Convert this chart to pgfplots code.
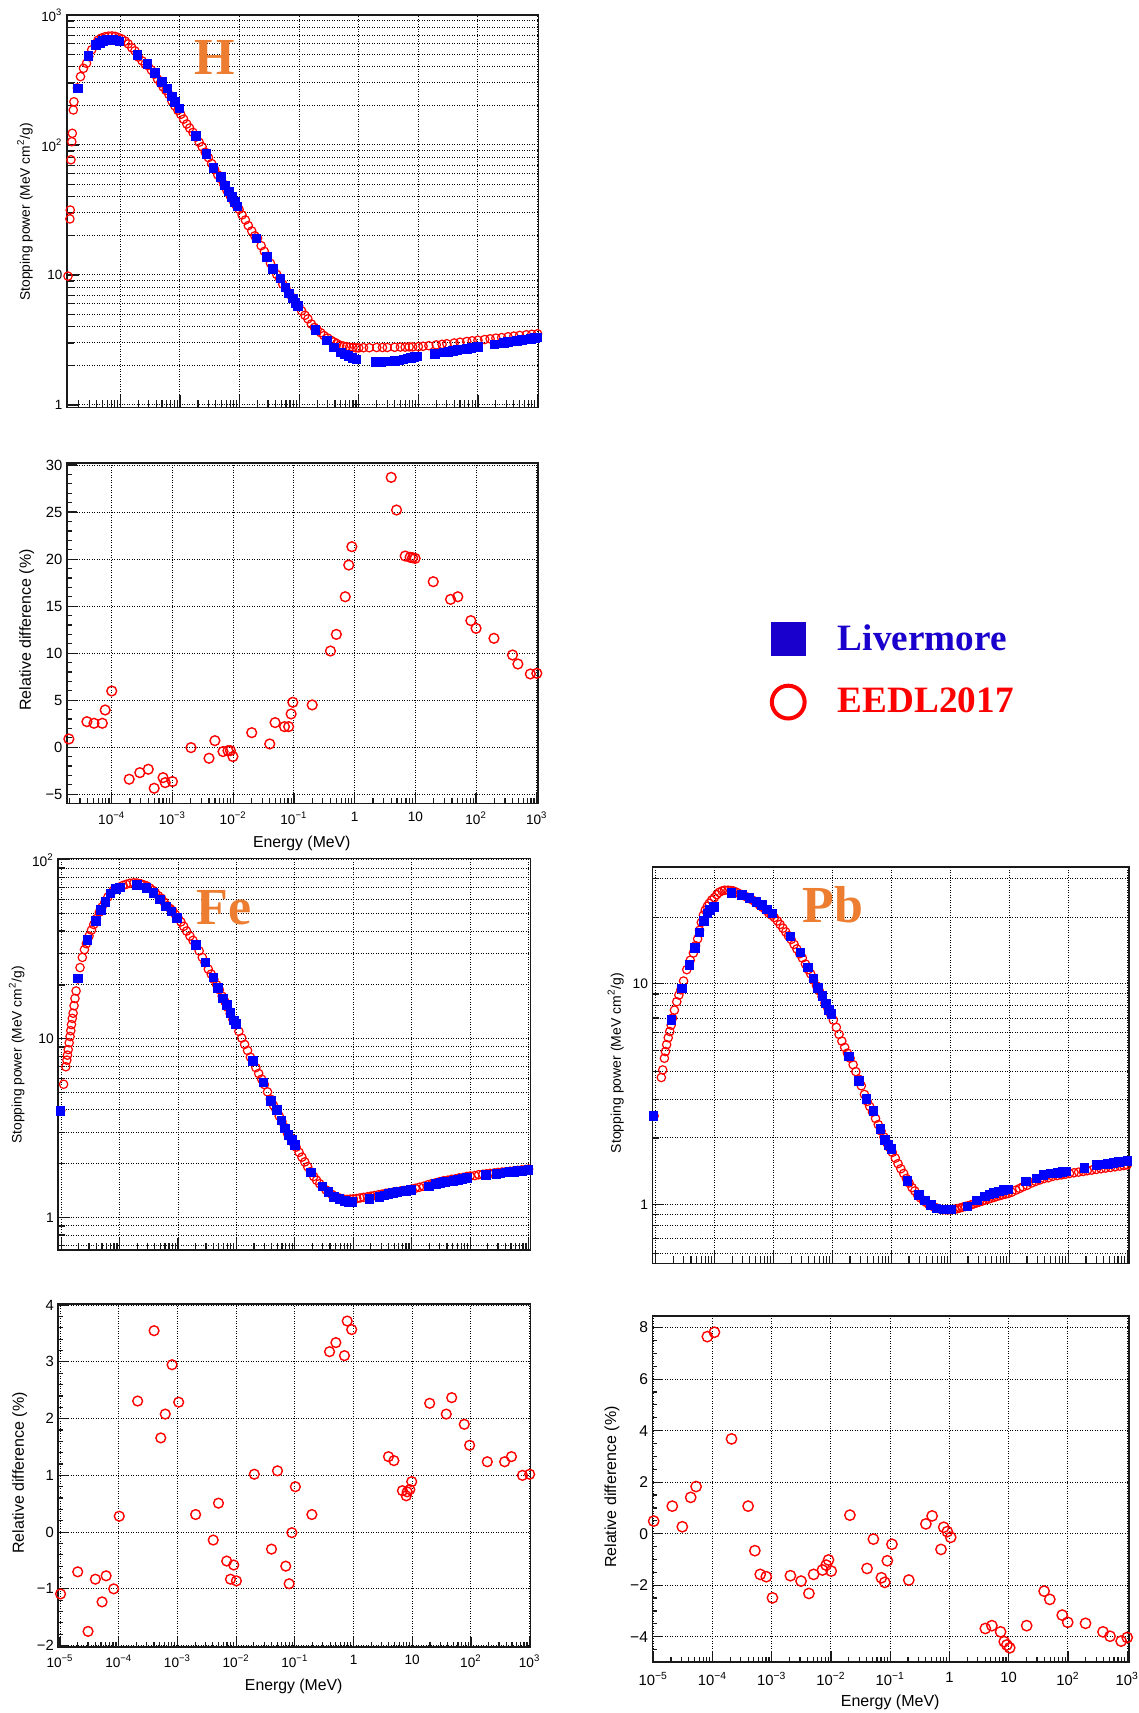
\documentclass[border=0pt]{standalone}
\usepackage{fontspec}
\setmainfont{Liberation Sans}
\newfontfamily\timesf{Liberation Serif}
\usepackage{pgfplots}
\pgfplotsset{compat=1.18}
\definecolor{rootblue}{RGB}{0,0,255}
\definecolor{rootred}{RGB}{255,0,0}
\definecolor{legblue}{RGB}{26,0,204}
\definecolor{elorange}{RGB}{237,125,49}
\newcommand{\myfs}[1]{\fontsize{#1}{#1}\selectfont}
\newcommand{\elfont}{\timesf\bfseries\fontsize{26}{28}\selectfont}
\newcommand{\legfont}{\timesf\bfseries\fontsize{18.6}{22}\selectfont}
\tikzset{
  redc/.style={only marks, mark=o, color=rootred, mark size=2.1pt, line width=0.6pt},
  blues/.style={only marks, mark=square*, color=rootblue, mark size=2.15pt},
  redd/.style={only marks, mark=o, color=rootred, mark size=2.45pt, line width=0.7pt},
  gridst/.style={black, line width=0.5pt, dash pattern=on 0.5pt off 0.75pt},
}
\begin{document}
\begin{tikzpicture}
\path[use as bounding box] (0,0) rectangle (569.5pt,-856.5pt);

% ---------------- H stopping power
\begin{axis}[
  xmode=log, ymode=log, scale only axis,
  at={(33.4pt,-203.65pt)}, anchor=south west, width=235.9pt, height=196.15pt,
  xmin=1.26e-5, xmax=1042, ymin=0.96, ymax=1000,
  axis line style={black!90, line width=0.8pt},
  tick pos=left, tick align=inside, major tick length=6pt, minor tick length=3.5pt,
  tick style={black!90, line width=0.6pt},
  xmajorgrids, ymajorgrids, yminorgrids,
  major grid style={gridst}, minor grid style={gridst},
  clip=false,
  xtick={1e-5,1e-4,1e-3,1e-2,1e-1,1,10,100,1000}, xticklabels={},
  minor xtick={2e-5,3e-5,4e-5,5e-5,6e-5,7e-5,8e-5,9e-5,2e-4,3e-4,4e-4,5e-4,6e-4,7e-4,8e-4,9e-4,2e-3,3e-3,4e-3,5e-3,6e-3,7e-3,8e-3,9e-3,0.02,0.03,0.04,0.05,0.06,0.07,0.08,0.09,0.2,0.3,0.4,0.5,0.6,0.7,0.8,0.9,2,3,4,5,6,7,8,9,20,30,40,50,60,70,80,90,200,300,400,500,600,700,800,900},
  ytick={1,10,100,1000}, yticklabels={1,10,10\textsuperscript{2},10\textsuperscript{3}},
  minor ytick={2,3,4,5,6,7,8,9,20,30,40,50,60,70,80,90,200,300,400,500,600,700,800,900},
  yticklabel style={inner sep=0pt, xshift=-2pt, font=\myfs{6.7}},
  ylabel={Stopping power (MeV cm\textsuperscript{2}/g)},
  ylabel style={at={(axis description cs:-0.0886,0.498)}, anchor=center, font=\myfs{6.9}},
]
\addplot[redc] table {
1.32e-5 9.8
1.42e-5 27
1.44e-5 31.6
1.48e-5 77
1.53e-5 106
1.56e-5 123
1.62e-5 186
1.66e-5 215
1.9e-5 275
2.14e-5 336
2.4e-5 389
2.7e-5 425
2.95e-5 480
3.3e-5 540
3.8e-5 600
4.2e-5 640
4.8e-5 665
5.5e-5 680
6.3e-5 688
7.2e-5 690
8.2e-5 685
9.3e-5 670
1.05e-4 655
1.2e-4 630
1.35e-4 600
1.55e-4 560
1.75e-4 530
2.0e-4 475
2.3e-4 445
2.6e-4 418
2.9e-4 408
3.3e-4 378
3.7e-4 350
4.2e-4 322
4.7e-4 300
5.2e-4 280
5.8e-4 263
6.5e-4 245
7.3e-4 218
8.2e-4 200
9.2e-4 185
1.03e-3 172
1.15e-3 158
1.3e-3 145
1.45e-3 135
1.65e-3 125
1.85e-3 115
2.1e-3 105
2.35e-3 97
2.65e-3 88
3.0e-3 80
3.4e-3 72
3.8e-3 65
4.3e-3 59
4.8e-3 55
5.4e-3 50
6.1e-3 45
6.9e-3 41
7.8e-3 37.5
8.7e-3 34.5
9.8e-3 32
1.1e-2 29
1.25e-2 26.5
1.4e-2 24
1.6e-2 21.8
1.8e-2 20
2.0e-2 19.2
2.3e-2 16.8
2.6e-2 15.2
2.9e-2 13.9
3.3e-2 12.3
3.7e-2 11.1
4.2e-2 10.1
4.7e-2 9.4
5.3e-2 8.5
6.0e-2 7.9
6.8e-2 7.1
7.7e-2 6.7
8.7e-2 6.1
9.8e-2 5.8
0.11 5.3
0.125 4.9
0.14 4.6
0.16 4.2
0.18 3.95
0.2 3.8
0.23 3.6
0.26 3.42
0.3 3.28
0.34 3.15
0.38 3.06
0.43 2.97
0.48 2.88
0.55 2.84
0.62 2.81
0.7 2.78
0.8 2.77
0.9 2.75
1.0 2.75
1.2 2.76
1.5 2.76
2 2.77
2.5 2.77
3 2.77
4 2.78
5 2.79
6 2.79
7 2.8
8 2.8
10 2.81
12 2.83
15 2.86
20 2.9
25 2.93
30 2.96
40 3.0
50 3.04
65 3.08
80 3.12
100 3.15
130 3.19
160 3.23
200 3.27
250 3.3
320 3.35
400 3.39
500 3.43
650 3.47
800 3.5
1000 3.53
};
\addplot[blues] table {
1.94e-5 273
2.9e-5 487
3.9e-5 589
4.5e-5 612
5.1e-5 630
5.8e-5 640
6.6e-5 646
7.6e-5 646
8.6e-5 638
9.6e-5 628
1.93e-4 495
2.85e-4 420
3.8e-4 357
4.95e-4 307
6.1e-4 273
7.3e-4 236
8.3e-4 215
9.7e-4 191
1.84e-3 117
2.78e-3 85
3.66e-3 67
4.83e-3 57
5.7e-3 49
6.6e-3 44
7.5e-3 40
8.4e-3 36.5
9.2e-3 33.6
1.92e-2 19.1
2.9e-2 13.8
3.66e-2 11.1
4.83e-2 9.4
5.9e-2 8.0
6.8e-2 7.2
7.8e-2 6.6
8.7e-2 6.1
9.6e-2 5.8
0.187 3.78
0.29 3.13
0.383 2.78
0.505 2.53
0.58 2.45
0.665 2.38
0.78 2.3
0.91 2.24
1.92 2.15
2.4 2.15
2.9 2.16
3.4 2.17
4.0 2.18
4.8 2.21
5.6 2.24
6.5 2.28
7.5 2.31
8.6 2.34
9.6 2.37
19 2.48
27 2.54
32 2.57
38 2.6
45 2.64
55 2.68
65 2.71
78 2.75
90 2.78
100 2.8
190 2.93
270 3.02
320 3.06
380 3.09
450 3.12
550 3.16
650 3.2
780 3.24
900 3.28
1000 3.3
};
\node[font=\elfont, text=elorange, inner sep=0pt] at (rel axis cs:0.3126,0.892) {H};
\end{axis}

% ---------------- H relative difference
\begin{axis}[
  xmode=log, scale only axis,
  at={(33.4pt,-401.65pt)}, anchor=south west, width=235.7pt, height=170.3pt,
  xmin=1.82e-5, xmax=1054, ymin=-5.96, ymax=30.25,
  axis line style={black!90, line width=0.8pt},
  tick pos=left, tick align=inside, major tick length=5pt, minor tick length=2.5pt,
  tick style={black!90, line width=0.6pt},
  xmajorgrids, ymajorgrids,
  major grid style={gridst},
  clip=false,
  xtick={1e-4,1e-3,1e-2,1e-1,1,10,100,1000},
  xticklabels={10\textsuperscript{−4},10\textsuperscript{−3},10\textsuperscript{−2},10\textsuperscript{−1},1,10,10\textsuperscript{2},10\textsuperscript{3}},
  minor xtick={2e-5,3e-5,4e-5,5e-5,6e-5,7e-5,8e-5,9e-5,2e-4,3e-4,4e-4,5e-4,6e-4,7e-4,8e-4,9e-4,2e-3,3e-3,4e-3,5e-3,6e-3,7e-3,8e-3,9e-3,0.02,0.03,0.04,0.05,0.06,0.07,0.08,0.09,0.2,0.3,0.4,0.5,0.6,0.7,0.8,0.9,2,3,4,5,6,7,8,9,20,30,40,50,60,70,80,90,200,300,400,500,600,700,800,900},
  ytick={-5,0,5,10,15,20,25,30}, yticklabels={−5,0,5,10,15,20,25,30},
  minor y tick num=4,
  yticklabel style={inner sep=0pt, xshift=-2pt, font=\myfs{7.4}},
  xticklabel style={inner sep=0pt, yshift=-4pt, font=\myfs{6.8}},
  ylabel={Relative difference (\%)}, xlabel={Energy (MeV)},
  ylabel style={at={(axis description cs:-0.0849,0.509)}, anchor=center, font=\myfs{8}},
  xlabel style={at={(axis description cs:0.4985,-0.1166)}, anchor=center, font=\myfs{7.9}},
  legend style={at={(axis description cs:1.4951,0.5364)}, anchor=north west, draw=none, fill=none,
    inner sep=0pt, outer sep=0pt, font=\legfont, row sep=13.4pt, column sep=14.5pt},
  legend cell align=left,
]
\addlegendimage{only marks, mark=square*, color=legblue, mark size=8.33pt}
\addlegendentry{\textcolor{legblue}{Livermore}}
\addlegendimage{only marks, mark=o, color=rootred, mark size=8.2pt, line width=2pt}
\addlegendentry{\textcolor{rootred}{EEDL2017}}
\addplot[redd, forget plot] table {
1.97e-5 0.88
3.9e-5 2.72
5.1e-5 2.55
7.0e-5 2.55
7.8e-5 3.96
1.0e-4 5.98
1.94e-4 -3.40
2.9e-4 -2.70
4.0e-4 -2.34
5.0e-4 -4.36
7.0e-4 -3.23
7.6e-4 -3.76
1.0e-3 -3.65
2.02e-3 -0.04
4.0e-3 -1.17
5.0e-3 0.70
6.8e-3 -0.46
8.2e-3 -0.36
9.0e-3 -0.36
9.9e-3 -0.99
2.02e-2 1.55
4.0e-2 0.35
4.9e-2 2.62
7.0e-2 2.19
8.2e-2 2.19
9.0e-2 3.54
9.6e-2 4.78
0.2 4.5
0.4 10.23
0.5 12.0
0.7 16.0
0.8 19.37
0.9 21.32
4.0 28.69
4.9 25.22
6.8 20.33
8.2 20.19
9.0 20.15
9.9 20.08
19.7 17.6
38 15.72
50 16.0
82 13.46
100 12.64
197 11.58
398 9.81
488 8.85
783 7.79
1000 7.86
};
\end{axis}

% ---------------- Fe stopping power
\begin{axis}[
  xmode=log, ymode=log, scale only axis,
  at={(29.1pt,-625pt)}, anchor=south west, width=236.1pt, height=195.85pt,
  xmin=8.89e-6, xmax=1074, ymin=0.66, ymax=102,
  axis line style={black!90, line width=0.8pt},
  tick pos=left, tick align=inside, major tick length=6pt, minor tick length=3.5pt,
  tick style={black!90, line width=0.6pt},
  xmajorgrids, ymajorgrids, yminorgrids,
  major grid style={gridst}, minor grid style={gridst},
  clip=false,
  xtick={1e-5,1e-4,1e-3,1e-2,1e-1,1,10,100,1000}, xticklabels={},
  minor xtick={2e-5,3e-5,4e-5,5e-5,6e-5,7e-5,8e-5,9e-5,2e-4,3e-4,4e-4,5e-4,6e-4,7e-4,8e-4,9e-4,2e-3,3e-3,4e-3,5e-3,6e-3,7e-3,8e-3,9e-3,0.02,0.03,0.04,0.05,0.06,0.07,0.08,0.09,0.2,0.3,0.4,0.5,0.6,0.7,0.8,0.9,2,3,4,5,6,7,8,9,20,30,40,50,60,70,80,90,200,300,400,500,600,700,800,900},
  ytick={1,10,100}, yticklabels={1,10,10\textsuperscript{2}},
  minor ytick={0.7,0.8,0.9,2,3,4,5,6,7,8,9,20,30,40,50,60,70,80,90},
  yticklabel style={inner sep=0pt, xshift=-2pt, font=\myfs{6.9}},
  ylabel={Stopping power (MeV cm\textsuperscript{2}/g)},
  ylabel style={at={(axis description cs:-0.0877,0.498)}, anchor=center, font=\myfs{6.9}},
]
\addplot[redc] table {
9.8e-6 3.96
1.1e-5 5.57
1.2e-5 6.98
1.25e-5 7.6
1.28e-5 8.1
1.32e-5 8.7
1.37e-5 9.5
1.42e-5 10.3
1.46e-5 11.1
1.5e-5 12
1.55e-5 13
1.6e-5 13.9
1.66e-5 15.3
1.72e-5 16.8
1.8e-5 18.5
1.93e-5 21.6
2.1e-5 25
2.3e-5 28.5
2.5e-5 31.5
2.7e-5 34
3.0e-5 37.5
3.3e-5 40.5
3.6e-5 43.5
4.0e-5 47
4.5e-5 51
5.0e-5 54.5
5.6e-5 58
6.3e-5 62
7.0e-5 65
7.8e-5 67.5
8.7e-5 69
1.0e-4 70.5
1.15e-4 72
1.3e-4 73
1.5e-4 74
1.75e-4 74.5
2.0e-4 74.2
2.3e-4 73.5
2.6e-4 72.5
2.9e-4 71.5
3.3e-4 69.5
3.7e-4 67.5
4.1e-4 65.5
4.6e-4 63
5.2e-4 61
5.8e-4 58
6.5e-4 55.5
7.3e-4 53.5
8.1e-4 52
9.0e-4 49.5
1.0e-3 47.5
1.12e-3 45
1.25e-3 42.5
1.4e-3 40
1.6e-3 37.5
1.8e-3 35.5
2.0e-3 33.6
2.3e-3 31
2.6e-3 28.5
2.9e-3 26.6
3.3e-3 24.5
3.7e-3 23
4.1e-3 21.5
4.6e-3 20
5.1e-3 18.8
5.7e-3 17.3
6.3e-3 16.2
7.0e-3 15
7.8e-3 13.8
8.7e-3 12.8
9.7e-3 12
1.1e-2 11
1.23e-2 10.1
1.38e-2 9.3
1.55e-2 8.6
1.73e-2 7.9
1.93e-2 7.5
2.15e-2 6.9
2.4e-2 6.4
2.7e-2 5.95
3.0e-2 5.55
3.4e-2 5.05
3.8e-2 4.6
4.3e-2 4.25
4.8e-2 3.98
5.4e-2 3.7
6.0e-2 3.45
6.7e-2 3.2
7.5e-2 2.95
8.4e-2 2.8
9.4e-2 2.62
0.105 2.48
0.118 2.32
0.132 2.18
0.148 2.05
0.165 1.93
0.185 1.81
0.21 1.7
0.235 1.62
0.265 1.55
0.3 1.49
0.34 1.43
0.38 1.39
0.43 1.35
0.48 1.32
0.54 1.3
0.61 1.28
0.69 1.27
0.78 1.265
0.88 1.27
1.0 1.275
1.15 1.28
1.3 1.29
1.5 1.3
1.75 1.31
2.0 1.32
2.3 1.33
2.7 1.345
3.1 1.355
3.6 1.37
4.1 1.38
4.8 1.39
5.5 1.4
6.4 1.41
7.4 1.42
8.6 1.43
10 1.445
11.5 1.46
13.5 1.48
16 1.5
19 1.53
22 1.55
26 1.57
30 1.59
35 1.61
41 1.62
48 1.64
56 1.65
65 1.67
76 1.68
88 1.7
100 1.71
120 1.72
140 1.74
165 1.75
190 1.76
220 1.77
260 1.78
300 1.79
350 1.8
410 1.81
480 1.82
560 1.83
650 1.84
760 1.85
880 1.86
1000 1.87
};
\addplot[blues] table {
9.7e-6 3.96
1.93e-5 21.8
2.8e-5 35.7
3.9e-5 45.6
4.8e-5 52.5
5.7e-5 58
7.0e-5 65
8.7e-5 68.6
1.0e-4 70
1.96e-4 72.4
2.87e-4 69.5
3.8e-4 65.6
4.9e-4 60.2
6.2e-4 54.8
7.7e-4 51.4
9.5e-4 47.2
2.0e-3 33.5
2.93e-3 26.7
4.0e-3 22
4.8e-3 19.3
5.9e-3 16.8
6.8e-3 15.5
7.85e-3 13.9
9.0e-3 12.7
9.7e-3 12.1
1.9e-2 7.5
2.9e-2 5.7
3.85e-2 4.5
4.9e-2 4.0
5.9e-2 3.5
6.8e-2 3.16
7.8e-2 2.9
8.95e-2 2.72
9.9e-2 2.55
0.186 1.79
0.296 1.5
0.377 1.39
0.465 1.31
0.575 1.27
0.71 1.24
0.85 1.23
0.94 1.23
1.9 1.275
2.8 1.31
3.4 1.33
4.0 1.36
4.8 1.375
5.7 1.39
6.8 1.405
8.0 1.415
9.6 1.43
19.5 1.5
26 1.54
31 1.56
37 1.58
44 1.6
52 1.61
62 1.63
74 1.65
88 1.67
186 1.74
280 1.76
330 1.77
400 1.79
470 1.8
560 1.81
660 1.82
780 1.83
900 1.84
1000 1.85
};
\node[font=\elfont, text=elorange, inner sep=0pt] at (rel axis cs:0.3513,0.873) {Fe};
\end{axis}

% ---------------- Pb stopping power
\begin{axis}[
  xmode=log, ymode=log, scale only axis,
  at={(326.2pt,-631.65pt)}, anchor=south west, width=238.3pt, height=198.3pt,
  xmin=8.89e-6, xmax=1072, ymin=0.54, ymax=34,
  axis line style={black!90, line width=0.8pt},
  tick pos=left, tick align=inside, major tick length=6pt, minor tick length=3.5pt,
  tick style={black!90, line width=0.6pt},
  xmajorgrids, ymajorgrids, yminorgrids,
  major grid style={gridst}, minor grid style={gridst},
  clip=false,
  xtick={1e-5,1e-4,1e-3,1e-2,1e-1,1,10,100,1000}, xticklabels={},
  minor xtick={2e-5,3e-5,4e-5,5e-5,6e-5,7e-5,8e-5,9e-5,2e-4,3e-4,4e-4,5e-4,6e-4,7e-4,8e-4,9e-4,2e-3,3e-3,4e-3,5e-3,6e-3,7e-3,8e-3,9e-3,0.02,0.03,0.04,0.05,0.06,0.07,0.08,0.09,0.2,0.3,0.4,0.5,0.6,0.7,0.8,0.9,2,3,4,5,6,7,8,9,20,30,40,50,60,70,80,90,200,300,400,500,600,700,800,900},
  ytick={1,10}, yticklabels={1,10},
  minor ytick={0.6,0.7,0.8,0.9,2,3,4,5,6,7,8,9,20,30},
  yticklabel style={inner sep=0pt, xshift=-2pt, font=\myfs{6.9}},
  ylabel={Stopping power (MeV cm\textsuperscript{2}/g)},
  ylabel style={at={(axis description cs:-0.077,0.505)}, anchor=center, font=\myfs{7}},
]
\addplot[redc] table {
9.5e-6 2.52
1.26e-5 3.76
1.33e-5 4.07
1.42e-5 4.6
1.48e-5 4.93
1.55e-5 5.3
1.65e-5 5.7
1.75e-5 6.08
1.85e-5 6.5
1.95e-5 7.0
2.1e-5 7.6
2.3e-5 8.3
2.5e-5 8.9
2.7e-5 9.4
3.0e-5 10.3
3.4e-5 11.6
3.9e-5 12.8
4.4e-5 13.8
4.8e-5 14.9
5.2e-5 16
5.6e-5 17.5
6.0e-5 19
6.5e-5 20.5
7.0e-5 21.6
7.6e-5 22.5
8.2e-5 23.2
9.0e-5 24
1.0e-4 24.6
1.1e-4 25.4
1.2e-4 26.0
1.35e-4 26.4
1.5e-4 26.6
1.7e-4 26.6
1.9e-4 26.5
2.1e-4 26.4
2.4e-4 26
2.7e-4 25.6
3.0e-4 25.3
3.4e-4 24.9
3.8e-4 24.6
4.3e-4 24.1
4.8e-4 23.7
5.3e-4 23.2
5.9e-4 22.7
6.6e-4 22.2
7.4e-4 21.6
8.3e-4 21.0
9.3e-4 20.5
1.04e-3 20.0
1.17e-3 19.3
1.3e-3 18.6
1.45e-3 17.9
1.62e-3 17.2
1.8e-3 16.5
2.0e-3 15.9
2.25e-3 15.1
2.5e-3 14.4
2.8e-3 13.7
3.1e-3 13.1
3.5e-3 12.3
3.9e-3 11.6
4.3e-3 11.1
4.8e-3 10.4
5.4e-3 9.8
6.0e-3 9.3
6.7e-3 8.75
7.5e-3 8.2
8.4e-3 7.75
9.3e-3 7.3
1.04e-2 6.85
1.17e-2 6.35
1.3e-2 5.9
1.45e-2 5.5
1.62e-2 5.15
1.8e-2 4.85
2.0e-2 4.6
2.25e-2 4.3
2.5e-2 4.0
2.8e-2 3.7
3.1e-2 3.45
3.5e-2 3.15
3.9e-2 2.93
4.3e-2 2.78
4.8e-2 2.62
5.4e-2 2.45
6.0e-2 2.3
6.7e-2 2.15
7.5e-2 2.02
8.4e-2 1.9
9.3e-2 1.81
0.104 1.72
0.117 1.62
0.13 1.53
0.145 1.45
0.162 1.38
0.18 1.31
0.2 1.25
0.225 1.19
0.25 1.15
0.28 1.1
0.31 1.07
0.35 1.04
0.39 1.02
0.43 1.0
0.48 0.985
0.54 0.97
0.6 0.96
0.67 0.95
0.75 0.945
0.84 0.945
0.93 0.945
1.04 0.945
1.17 0.95
1.3 0.955
1.45 0.962
1.62 0.97
1.8 0.978
2.0 0.985
2.25 0.995
2.5 1.005
2.8 1.015
3.1 1.025
3.5 1.035
3.9 1.045
4.4 1.055
4.9 1.065
5.5 1.075
6.1 1.085
6.9 1.095
7.7 1.105
8.6 1.112
9.6 1.12
11 1.135
13 1.16
15 1.18
17 1.2
20 1.22
24 1.25
28 1.27
33 1.29
39 1.31
46 1.32
55 1.34
65 1.35
77 1.36
90 1.37
105 1.38
125 1.39
150 1.4
180 1.41
210 1.42
250 1.43
300 1.44
360 1.45
430 1.46
520 1.47
620 1.48
750 1.49
880 1.5
1000 1.51
};
\addplot[blues] table {
9.3e-6 2.52
1.88e-5 6.87
2.78e-5 9.55
3.78e-5 12.2
4.72e-5 14.6
5.57e-5 17.1
6.6e-5 19.3
7.6e-5 20.9
8.46e-5 21.7
9.7e-5 22.4
1.95e-4 25.8
2.96e-4 25.3
3.9e-4 24.5
5.16e-4 23.6
6.37e-4 22.8
7.85e-4 21.8
9.7e-4 20.9
1.94e-3 16.4
2.87e-3 13.9
3.89e-3 11.9
4.8e-3 10.6
5.75e-3 9.6
6.8e-3 8.83
7.8e-3 8.17
8.7e-3 7.62
9.6e-3 7.3
1.93e-2 4.68
2.85e-2 3.64
3.77e-2 3.0
4.97e-2 2.65
6.56e-2 2.2
7.76e-2 1.96
8.9e-2 1.86
0.1 1.78
0.187 1.28
0.291 1.1
0.374 1.04
0.474 0.993
0.585 0.96
0.77 0.95
1.02 0.95
1.96 0.98
2.82 1.04
3.83 1.084
4.6 1.11
5.5 1.13
6.6 1.145
8 1.16
9.6 1.17
19 1.27
29 1.31
38 1.36
50 1.38
65 1.39
80 1.405
93 1.41
189 1.46
300 1.51
380 1.52
470 1.53
580 1.545
720 1.555
870 1.565
1000 1.57
};
\node[font=\elfont, text=elorange, inner sep=0pt] at (rel axis cs:0.379,0.904) {Pb};
\end{axis}

% ---------------- Fe relative difference
\begin{axis}[
  xmode=log, scale only axis,
  at={(29.1pt,-823.35pt)}, anchor=south west, width=236.1pt, height=171.35pt,
  xmin=9.3e-6, xmax=1030, ymin=-2.02, ymax=4.02,
  axis line style={black!90, line width=0.8pt},
  tick pos=left, tick align=inside, major tick length=5pt, minor tick length=2.5pt,
  tick style={black!90, line width=0.6pt},
  xmajorgrids, ymajorgrids,
  major grid style={gridst},
  clip=false,
  xtick={1e-5,1e-4,1e-3,1e-2,1e-1,1,10,100,1000},
  xticklabels={10\textsuperscript{−5},10\textsuperscript{−4},10\textsuperscript{−3},10\textsuperscript{−2},10\textsuperscript{−1},1,10,10\textsuperscript{2},10\textsuperscript{3}},
  minor xtick={2e-5,3e-5,4e-5,5e-5,6e-5,7e-5,8e-5,9e-5,2e-4,3e-4,4e-4,5e-4,6e-4,7e-4,8e-4,9e-4,2e-3,3e-3,4e-3,5e-3,6e-3,7e-3,8e-3,9e-3,0.02,0.03,0.04,0.05,0.06,0.07,0.08,0.09,0.2,0.3,0.4,0.5,0.6,0.7,0.8,0.9,2,3,4,5,6,7,8,9,20,30,40,50,60,70,80,90,200,300,400,500,600,700,800,900},
  ytick={-2,-1,0,1,2,3,4}, yticklabels={−2,−1,0,1,2,3,4},
  minor y tick num=4,
  yticklabel style={inner sep=0pt, xshift=-2pt, font=\myfs{7.4}},
  xticklabel style={inner sep=0pt, yshift=-4pt, font=\myfs{6.8}},
  ylabel={Relative difference (\%)}, xlabel={Energy (MeV)},
  ylabel style={at={(axis description cs:-0.0817,0.507)}, anchor=center, font=\myfs{8}},
  xlabel style={at={(axis description cs:0.4988,-0.1167)}, anchor=center, font=\myfs{7.9}},
]
\addplot[redd] table {
1.02e-5 -1.09
2.0e-5 -0.70
3.0e-5 -1.75
4.0e-5 -0.83
5.2e-5 -1.23
6.1e-5 -0.77
8.2e-5 -1.0
1.02e-4 0.28
2.1e-4 2.31
4.0e-4 3.55
5.2e-4 1.66
6.2e-4 2.08
8.1e-4 2.95
1.05e-3 2.29
2.04e-3 0.31
4.07e-3 -0.14
5.0e-3 0.51
6.9e-3 -0.51
8.0e-3 -0.83
9.1e-3 -0.58
1.01e-2 -0.86
2.04e-2 1.02
4.0e-2 -0.30
5.06e-2 1.08
7.0e-2 -0.60
8.0e-2 -0.91
8.9e-2 -0.01
0.102 0.80
0.195 0.31
0.39 3.18
0.5 3.34
0.7 3.11
0.78 3.72
0.93 3.57
3.94 1.33
4.87 1.26
6.8 0.73
7.9 0.64
8.2 0.71
9.1 0.75
9.8 0.89
19.8 2.27
38 2.08
47 2.37
77 1.90
95 1.53
190 1.24
375 1.24
490 1.33
754 1.0
1000 1.02
};
\end{axis}

% ---------------- Pb relative difference
\begin{axis}[
  xmode=log, scale only axis,
  at={(326.2pt,-830.85pt)}, anchor=south west, width=238.3pt, height=172.85pt,
  xmin=9.7e-6, xmax=1072, ymin=-4.97, ymax=8.45,
  axis line style={black!90, line width=0.8pt},
  tick pos=left, tick align=inside, major tick length=5.3pt, minor tick length=2.5pt,
  tick style={black!90, line width=0.6pt},
  xmajorgrids, ymajorgrids,
  major grid style={gridst},
  clip=false,
  xtick={1e-5,1e-4,1e-3,1e-2,1e-1,1,10,100,1000},
  xticklabels={10\textsuperscript{−5},10\textsuperscript{−4},10\textsuperscript{−3},10\textsuperscript{−2},10\textsuperscript{−1},1,10,10\textsuperscript{2},10\textsuperscript{3}},
  minor xtick={2e-5,3e-5,4e-5,5e-5,6e-5,7e-5,8e-5,9e-5,2e-4,3e-4,4e-4,5e-4,6e-4,7e-4,8e-4,9e-4,2e-3,3e-3,4e-3,5e-3,6e-3,7e-3,8e-3,9e-3,0.02,0.03,0.04,0.05,0.06,0.07,0.08,0.09,0.2,0.3,0.4,0.5,0.6,0.7,0.8,0.9,2,3,4,5,6,7,8,9,20,30,40,50,60,70,80,90,200,300,400,500,600,700,800,900},
  ytick={-4,-2,0,2,4,6,8}, yticklabels={−4,−2,0,2,4,6,8},
  minor ytick={-4.5,-3.5,-3,-2.5,-1.5,-1,-0.5,0.5,1,1.5,2.5,3,3.5,4.5,5,5.5,6.5,7,7.5},
  yticklabel style={inner sep=0pt, xshift=-2pt, font=\myfs{7.8}},
  xticklabel style={inner sep=0pt, yshift=-5pt, font=\myfs{7.4}},
  ylabel={Relative difference (\%)}, xlabel={Energy (MeV)},
  ylabel style={at={(axis description cs:-0.0846,0.505)}, anchor=center, font=\myfs{8}},
  xlabel style={at={(axis description cs:0.499,-0.118)}, anchor=center, font=\myfs{8}},
]
\addplot[redd, mark size=2.6pt] table {
1.02e-5 0.49
2.1e-5 1.07
3.1e-5 0.27
4.3e-5 1.41
5.3e-5 1.83
8.2e-5 7.65
1.08e-4 7.82
2.1e-4 3.68
4.0e-4 1.07
5.2e-4 -0.66
6.4e-4 -1.58
8.1e-4 -1.67
1.03e-3 -2.49
2.07e-3 -1.63
3.13e-3 -1.84
4.25e-3 -2.32
5.1e-3 -1.58
7.2e-3 -1.41
8.3e-3 -1.22
9.1e-3 -1.02
1.01e-2 -1.45
2.09e-2 0.72
4.07e-2 -1.35
5.2e-2 -0.21
7.1e-2 -1.71
8.1e-2 -1.89
8.95e-2 -1.05
0.107 -0.41
0.206 -1.80
0.40 0.38
0.51 0.69
0.72 -0.61
0.80 0.25
0.92 0.08
1.05 -0.14
4.03 -3.68
5.2 -3.57
7.3 -3.81
8.4 -4.19
9.3 -4.32
10.4 -4.43
20.1 -3.57
39.6 -2.23
49.4 -2.55
80 -3.16
99 -3.44
198 -3.48
390 -3.81
513 -3.98
790 -4.17
1000 -4.03
};
\end{axis}
\end{tikzpicture}
\end{document}
